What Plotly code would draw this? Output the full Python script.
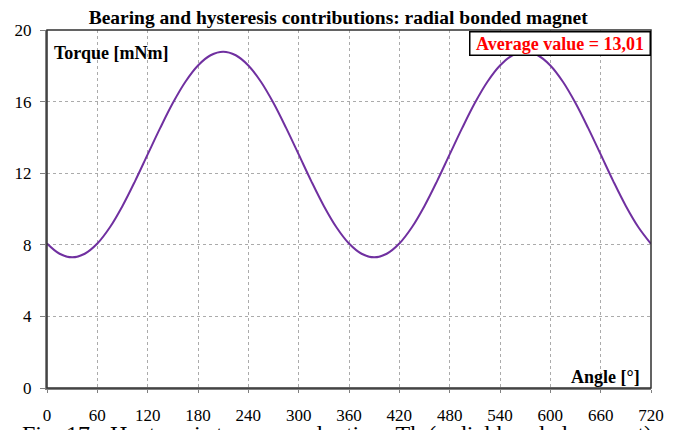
import plotly.graph_objects as go

# angle [deg] and torque [mNm]
angle = [0, 15, 30, 45, 60, 75, 90, 105, 120, 135, 150, 165, 180, 195, 210, 225,
         240, 255, 270, 285, 300, 315, 330, 345, 360, 375, 390, 405, 420, 435, 450,
         465, 480, 495, 510, 525, 540, 555, 570, 585, 600, 615, 630, 645, 660, 675,
         690, 705, 720]
torque = [8.07, 7.50, 7.30, 7.50, 8.07, 8.98, 10.17, 11.56, 13.05, 14.53, 15.92,
          17.11, 18.02, 18.59, 18.79, 18.59, 18.02, 17.11, 15.92, 14.53, 13.05,
          11.56, 10.17, 8.98, 8.07, 7.50, 7.30, 7.50, 8.07, 8.98, 10.17, 11.56,
          13.05, 14.53, 15.92, 17.11, 18.02, 18.59, 18.79, 18.59, 18.02, 17.11,
          15.92, 14.53, 13.05, 11.56, 10.17, 8.98, 8.05]

x_ticks = list(range(0, 721, 60))
y_ticks = [0, 4, 8, 12, 16, 20]

serif = "Liberation Serif"

fig = go.Figure()
fig.add_trace(go.Scatter(
    x=angle, y=torque, mode="lines", line_shape="spline",
    line=dict(color="#7030A0", width=2), showlegend=False,
))

grid = dict(showgrid=True, gridcolor="#ABABAB", griddash="3px,3px", gridwidth=1,
            zeroline=False, ticks="outside", tickcolor="#808080",
            tickfont=dict(family=serif, size=17, color="black"),
            showline=True, linecolor="#808080", linewidth=2)

fig.update_layout(
    width=678, height=430,
    margin=dict(l=39, r=35, t=22, b=50, autoexpand=False),
    plot_bgcolor="white", paper_bgcolor="white",
    title=dict(text="<b>Bearing and hysteresis contributions: radial bonded magnet</b>",
               x=0.487, xanchor="center", y=0.979, yanchor="middle",
               font=dict(family=serif, size=19.5, color="black")),
    xaxis=dict(range=[0, 720], tickvals=x_ticks, ticklen=3, ticklabelstandoff=8, **grid),
    yaxis=dict(range=[0, 20], tickvals=y_ticks, ticklen=5, ticklabelstandoff=5, **grid),
    shapes=[dict(type="rect", xref="paper", yref="paper", x0=0, x1=1, y0=0, y1=1,
                 line=dict(color="#303030", width=1.5))],
    annotations=[
        dict(text="<b>Torque [mNm]</b>", x=0.008, y=0.935, xref="paper", yref="paper",
             xanchor="left", yanchor="middle", showarrow=False,
             font=dict(family=serif, size=18, color="black")),
        dict(text="<b>Angle [°]</b>", x=0.985, y=0.03, xref="paper", yref="paper",
             xanchor="right", yanchor="middle", showarrow=False,
             font=dict(family=serif, size=18, color="black")),
        dict(text="&nbsp;<b>Average value = 13,01</b>&nbsp;", x=1, y=0.997, xref="paper",
             yref="paper", xanchor="right", yanchor="top", showarrow=False,
             font=dict(family=serif, size=18, color="#FF0000"),
             bgcolor="white", bordercolor="black", borderwidth=1.5, borderpad=1),
        dict(text="Fig. 17 - Hysteresis torque evaluation: Th (radial bonded magnet)",
             x=-0.045, y=-0.087, xref="paper", yref="paper", xanchor="left",
             yanchor="top", showarrow=False,
             font=dict(family=serif, size=24, color="black")),
    ],
)

fig.write_html("out.html")
